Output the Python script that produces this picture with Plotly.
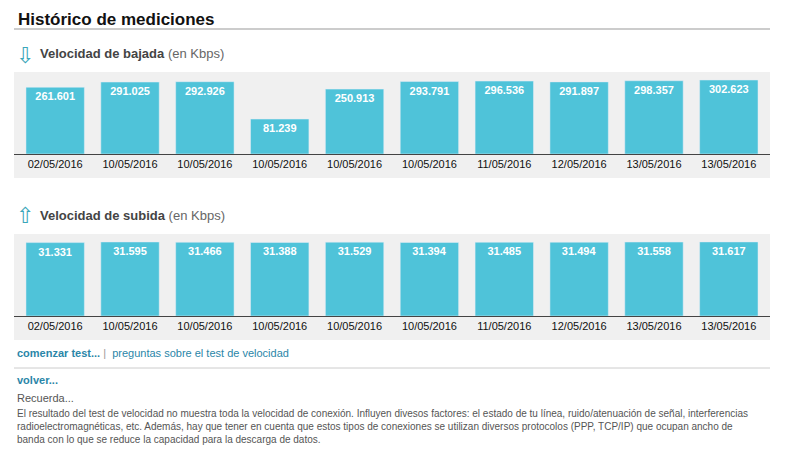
import plotly.graph_objects as go

# page body has an 8px margin, so the figure is a bit smaller than the window
W, H = 770, 440
OFF = 8

fechas = ["02/05/2016", "10/05/2016", "10/05/2016", "10/05/2016", "10/05/2016",
          "10/05/2016", "11/05/2016", "12/05/2016", "13/05/2016", "13/05/2016"]
bajada = [261.601, 291.025, 292.926, 81.239, 250.913, 293.791, 296.536, 291.897, 298.357, 302.623]
subida = [31.331, 31.595, 31.466, 31.388, 31.529, 31.394, 31.485, 31.494, 31.558, 31.617]

BAR = "#4fc3d9"
BASE_DOWN = -117  # the site draws a minimum stub under every bar


def py(px):
    return 1 - (px - OFF) / H


def px_x(px):
    return (px - OFF) / W


idx = list(range(len(fechas)))
fmt = lambda v: f"<b>{v:.3f}</b>"

fig = go.Figure()
fig.add_trace(go.Bar(x=idx, y=[v - BASE_DOWN for v in bajada], base=BASE_DOWN,
                     text=[fmt(v) for v in bajada], marker_color=BAR,
                     textposition="inside", insidetextanchor="end",
                     textfont=dict(color="white", size=11, family="Arial"),
                     hoverinfo="skip", xaxis="x", yaxis="y"))
fig.add_trace(go.Bar(x=idx, y=subida, text=[fmt(v) for v in subida], marker_color=BAR,
                     textposition="inside", insidetextanchor="end",
                     textfont=dict(color="white", size=11, family="Arial"),
                     hoverinfo="skip", xaxis="x2", yaxis="y2"))

xax = dict(domain=[px_x(14), px_x(770)], tickmode="array", tickvals=idx, ticktext=fechas,
           showline=True, linecolor="#444", linewidth=1, showgrid=False, zeroline=False,
           ticks="", tickfont=dict(size=11, color="#111", family="Arial"),
           range=[-0.55, 9.55], fixedrange=True)
fig.update_layout(
    width=W, height=H, margin=dict(l=0, r=0, t=0, b=0),
    paper_bgcolor="white", plot_bgcolor="rgba(0,0,0,0)", showlegend=False,
    bargap=0.22, uniformtext=dict(minsize=8, mode="show"),
    xaxis=dict(xax, anchor="y"),
    yaxis=dict(domain=[py(154), py(72)], range=[BASE_DOWN, 348], visible=False),
    xaxis2=dict(xax, anchor="y2"),
    yaxis2=dict(domain=[py(316), py(234)], range=[0, 35], visible=False),
)

shapes = [
    dict(type="line", xref="paper", yref="paper", x0=px_x(14), x1=px_x(770), y0=py(29), y1=py(29),
         line=dict(color="#999", width=1)),
    dict(type="rect", xref="paper", yref="paper", x0=px_x(14), x1=px_x(770), y0=py(178), y1=py(72),
         line=dict(width=0), fillcolor="#f0f0f0", layer="below"),
    dict(type="rect", xref="paper", yref="paper", x0=px_x(14), x1=px_x(770), y0=py(340), y1=py(234),
         line=dict(width=0), fillcolor="#f0f0f0", layer="below"),
    dict(type="line", xref="paper", yref="paper", x0=px_x(14), x1=px_x(770), y0=py(368), y1=py(368),
         line=dict(color="#ccc", width=1)),
]
fig.update_layout(shapes=shapes)


def ann(x, y, text, size, color, anchor="left"):
    fig.add_annotation(x=px_x(x), y=py(y), xref="paper", yref="paper", text=text, showarrow=False,
                       xanchor=anchor, yanchor="middle", font=dict(size=size, color=color, family="Arial"))


ann(16, 19, "<b>Histórico de mediciones</b>", 17, "#111")
ann(14, 55, "⇩", 22, "#3aa6b9")
ann(38, 54, "<b>Velocidad de bajada</b> <span style='color:#666'>(en Kbps)</span>", 13, "#444")
ann(14, 215, "⇧", 22, "#3aa6b9")
ann(38, 215, "<b>Velocidad de subida</b> <span style='color:#666'>(en Kbps)</span>", 13, "#444")
ann(15, 353, "<b>comenzar test...</b> <span style='color:#999'>|</span>  preguntas sobre el test de velocidad", 11, "#2a86a8")
ann(15, 380, "<b>volver...</b>", 11, "#2a86a8")
ann(15, 398, "Recuerda...", 11, "#555")
body = ("El resultado del test de velocidad no muestra toda la velocidad de conexión. Influyen divesos factores: el estado de tu línea, ruido/atenuación de señal, interferencias<br>"
        "radioelectromagnéticas, etc. Además, hay que tener en cuenta que estos tipos de conexiones se utilizan diversos protocolos (PPP, TCP/IP) que ocupan ancho de<br>"
        "banda con lo que se reduce la capacidad para la descarga de datos.")
fig.add_annotation(x=px_x(15), y=py(406), xref="paper", yref="paper", text=body, showarrow=False,
                   xanchor="left", yanchor="top", align="left",
                   font=dict(size=10, color="#555", family="Arial"))

fig.write_html("out.html")
